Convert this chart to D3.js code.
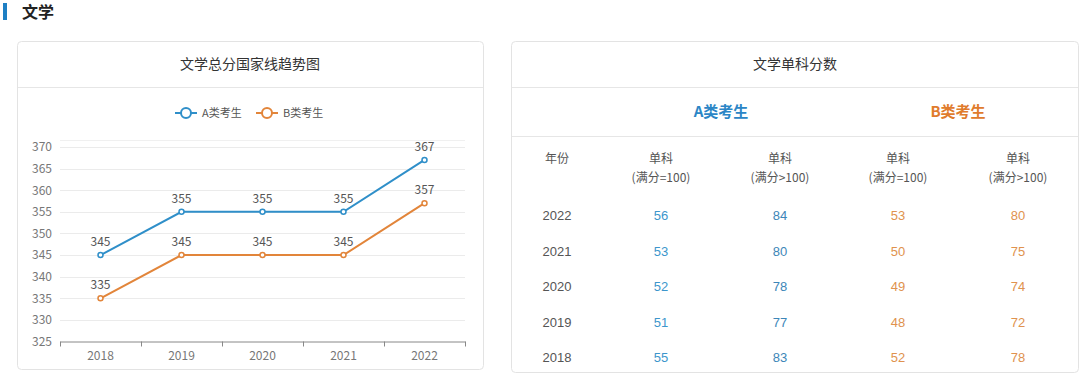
<!DOCTYPE html>
<html><head><meta charset="utf-8">
<script src="https://cdn.jsdelivr.net/npm/d3@7"></script>
<style>
html,body{margin:0;padding:0;background:#fff;}
svg{display:block;font-family:"Noto Sans CJK SC","Microsoft YaHei",sans-serif;}
</style></head>
<body>
<script>
const years = ["2018","2019","2020","2021","2022"];
const seriesA = [345,355,355,355,367];
const seriesB = [335,345,345,345,357];
const seriesNames = ["A类考生","B类考生"];
const yTicks = [325,330,335,340,345,350,355,360,365,370];
const tableYears = ["2022","2021","2020","2019","2018"];
const aEq100 = [56,53,52,51,55];
const aGt100 = [84,80,78,77,83];
const bEq100 = [53,50,49,48,52];
const bGt100 = [80,75,74,72,78];
const colHeads = ["(满分=100)","(满分>100)","(满分=100)","(满分>100)"];

const blue = "#2f8fc9", orange = "#e2853a";
const W = 1080, H = 375;
const svg = d3.select("body").append("svg").attr("width", W).attr("height", H);

// Section heading
svg.append("rect").attr("x",3).attr("y",3).attr("width",4).attr("height",17).attr("fill","#1e7fc4");
svg.append("text").attr("x",22).attr("y",18).attr("font-size",16).attr("font-weight","bold").attr("fill","#222").text("文学");

// Panels
function panel(x, y, w, h){
  svg.append("rect").attr("x",x).attr("y",y).attr("width",w).attr("height",h).attr("rx",4)
    .attr("fill","#fff").attr("stroke","#e3e3e3");
}
panel(17.5, 41.5, 466, 328);
panel(511.5, 41.5, 567, 331);
svg.append("line").attr("x1",18).attr("x2",483).attr("y1",87.5).attr("y2",87.5).attr("stroke","#e6e6e6");
svg.append("line").attr("x1",512).attr("x2",1078).attr("y1",87.5).attr("y2",87.5).attr("stroke","#e6e6e6");
svg.append("line").attr("x1",512).attr("x2",1078).attr("y1",136.5).attr("y2",136.5).attr("stroke","#e6e6e6");

svg.append("text").attr("x",250).attr("y",69).attr("text-anchor","middle").attr("font-size",14).attr("fill","#333").text("文学总分国家线趋势图");
svg.append("text").attr("x",795).attr("y",69).attr("text-anchor","middle").attr("font-size",14).attr("fill","#333").text("文学单科分数");

// Line chart
const x = d3.scaleBand().domain(years).range([60,465]);
const y = d3.scaleLinear().domain([325,370]).range([341.5,147]);
const g = svg.append("g");
g.append("line").attr("x1",60).attr("x2",465).attr("y1",140.5).attr("y2",140.5).attr("stroke","#f0f0f0");
g.selectAll(".grid").data(yTicks.slice(1)).join("line")
  .attr("x1",60).attr("x2",465).attr("y1",d=>Math.round(y(d))+0.5).attr("y2",d=>Math.round(y(d))+0.5)
  .attr("stroke","#ebebeb");
const yAxis = g.append("g").attr("transform","translate(60,0)")
  .call(d3.axisLeft(y).tickValues(yTicks).tickSize(0).tickPadding(8));
yAxis.select(".domain").remove();
yAxis.selectAll("text").attr("font-size",12).attr("fill","#777").attr("font-family","Noto Sans CJK SC, sans-serif");
const xAxis = g.append("g").attr("transform","translate(0,341.5)")
  .call(d3.axisBottom(x).tickSize(0).tickPadding(10));
xAxis.select(".domain").attr("stroke","#888");
xAxis.selectAll("text").attr("font-size",12).attr("fill","#777").attr("font-family","Noto Sans CJK SC, sans-serif");
g.selectAll(".xt").data(years.concat(["end"])).join("line")
  .attr("x1",(d,i)=>Math.round(60+i*x.bandwidth())+0.5).attr("x2",(d,i)=>Math.round(60+i*x.bandwidth())+0.5)
  .attr("y1",341.5).attr("y2",346.5).attr("stroke","#888");

const line = d3.line().x((d,i)=>x(years[i])+x.bandwidth()/2).y(d=>y(d));
[[seriesB,orange],[seriesA,blue]].forEach(([s,c])=>{
  g.append("path").datum(s).attr("d",line).attr("fill","none").attr("stroke",c).attr("stroke-width",2);
  g.selectAll(null).data(s).join("circle")
    .attr("cx",(d,i)=>x(years[i])+x.bandwidth()/2).attr("cy",d=>y(d)).attr("r",2.5)
    .attr("fill","#fff").attr("stroke",c).attr("stroke-width",1.5);
  g.selectAll(null).data(s).join("text")
    .attr("x",(d,i)=>x(years[i])+x.bandwidth()/2).attr("y",d=>y(d)-9)
    .attr("text-anchor","middle").attr("font-size",12).attr("fill","#555").text(d=>d);
});

// Legend
const leg = svg.append("g");
[[seriesNames[0],blue,175],[seriesNames[1],orange,256]].forEach(([n,c,lx])=>{
  leg.append("line").attr("x1",lx).attr("x2",lx+22).attr("y1",113).attr("y2",113).attr("stroke",c).attr("stroke-width",2);
  leg.append("circle").attr("cx",lx+11).attr("cy",113).attr("r",5).attr("fill","#fff").attr("stroke",c).attr("stroke-width",2);
  leg.append("text").attr("x",lx+27).attr("y",117).attr("font-size",11).attr("fill","#555").text(n);
});

// Table
const t = svg.append("g");
t.append("text").attr("x",721).attr("y",117).attr("text-anchor","middle").attr("font-size",15).attr("font-weight","bold").attr("fill","#2b86c6").text(seriesNames[0]);
t.append("text").attr("x",958).attr("y",117).attr("text-anchor","middle").attr("font-size",15).attr("font-weight","bold").attr("fill","#e07b2c").text(seriesNames[1]);
const colX = [557,661,780,898,1018];
t.append("text").attr("x",colX[0]).attr("y",163).attr("text-anchor","middle").attr("font-size",12).attr("fill","#555").text("年份");
colHeads.forEach((h,i)=>{
  t.append("text").attr("x",colX[i+1]).attr("y",163).attr("text-anchor","middle").attr("font-size",12).attr("fill","#555").text("单科");
  t.append("text").attr("x",colX[i+1]).attr("y",182).attr("text-anchor","middle").attr("font-size",12).attr("fill","#555").text(h);
});
const rowY = d3.scalePoint().domain(tableYears).range([220,362]);
const cols = [[aEq100,"#3d96cc"],[aGt100,"#3d86b8"],[bEq100,"#e0924e"],[bGt100,"#e0924e"]];
tableYears.forEach((yr,r)=>{
  t.append("text").attr("x",colX[0]).attr("y",rowY(yr)).attr("text-anchor","middle").attr("font-size",13).attr("fill","#555").attr("font-family","Liberation Sans, Arial, sans-serif").text(yr);
  cols.forEach(([arr,c],ci)=>{
    t.append("text").attr("x",colX[ci+1]).attr("y",rowY(yr)).attr("text-anchor","middle").attr("font-size",13).attr("fill",c).attr("font-family","Liberation Sans, Arial, sans-serif").text(arr[r]);
  });
});
</script>
</body></html>
